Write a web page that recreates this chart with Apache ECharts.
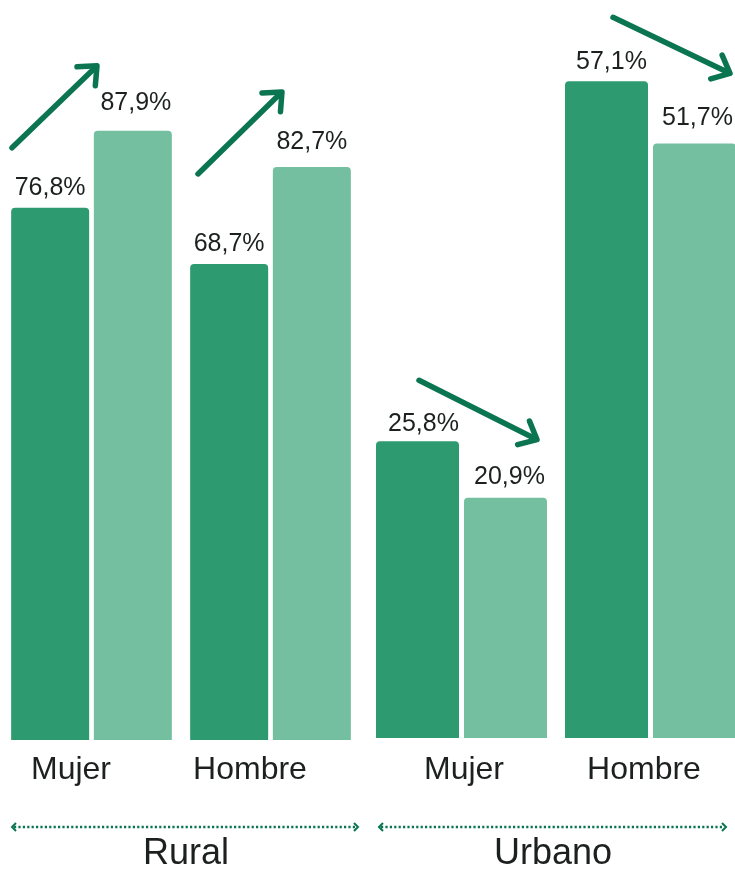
<!DOCTYPE html>
<html>
<head>
<meta charset="utf-8">
<style>
html,body{margin:0;padding:0;background:#fff;}
#chart{width:735px;height:869px;}
</style>
<script src="https://cdn.jsdelivr.net/npm/echarts@6/dist/echarts.min.js"></script>
</head>
<body>
<div id="chart"></div>
<script>
// ---- data ----
const categories = ['Mujer', 'Hombre'];
const groups = ['Rural', 'Urbano'];
const ruralDark = [76.8, 68.7];
const ruralLight = [87.9, 82.7];
const urbanoDark = [25.8, 57.1];
const urbanoLight = [20.9, 51.7];

// ---- style ----
const FONT = 'Liberation Sans, Arial, sans-serif';
const DARK = '#2e9a6f';
const LIGHT = '#74bf9f';
const ARROW = '#0a7550';
const TEXT = '#1c2120';
// per-bar label placement tweaks: [distance above bar, horizontal offset]
const labelTweaks = {
  ruralDark: [[7, 0], [7, 0]],
  ruralLight: [[15, 3], [12, 0]],
  urbanoDark: [[5, 6], [7, 5]],
  urbanoLight: [[8, 4], [13, 3]]
};

const chart = echarts.init(document.getElementById('chart'), null, {renderer: 'canvas'});

function fmt(p) { return p.value.toFixed(1).replace('.', ',') + '%'; }

function barSeries(xi, yi, values, tweaks, color, width) {
  return {
    type: 'bar', xAxisIndex: xi, yAxisIndex: yi,
    data: values.map((v, i) => ({value: v,
      label: {distance: tweaks[i][0], offset: [tweaks[i][1], 0]}})),
    barWidth: width, barGap: '6%',
    itemStyle: {color: color, borderRadius: [4, 4, 0, 0]},
    label: {show: true, position: 'top', formatter: fmt,
            fontFamily: FONT, fontSize: 25, color: TEXT},
    silent: true, animation: false
  };
}

function catAxis(gi, margin, shifts, boundaryGap) {
  const rich = {};
  shifts.forEach((s, i) => {
    rich['c' + i] = {fontFamily: FONT, fontSize: 32, color: TEXT,
      padding: s < 0 ? [0, -2 * s, 0, 0] : [0, 0, 0, 2 * s]};
  });
  return {
    type: 'category', gridIndex: gi, data: categories, position: 'bottom',
    boundaryGap: boundaryGap,
    axisLine: {show: false}, axisTick: {show: false},
    axisLabel: {margin: margin, interval: 0,
      formatter: (v, i) => '{c' + i + '|' + v + '}', rich: rich}
  };
}

function groupAxis(gi, name, margin, shift) {
  return {
    type: 'category', gridIndex: gi, data: [name], position: 'bottom',
    axisLine: {show: false}, axisTick: {show: false},
    axisLabel: {margin: margin, fontFamily: FONT, fontSize: 36, color: TEXT,
      padding: shift < 0 ? [0, -2 * shift, 0, 0] : [0, 0, 0, 2 * shift]}
  };
}

const option = {
  backgroundColor: '#ffffff',
  animation: false,
  grid: [
    {left: 2, top: 47, width: 358, height: 693, containLabel: false, outerBoundsMode: 'none'},
    {left: 461.5, top: 48, width: 189, height: 690, containLabel: false, outerBoundsMode: 'none'}
  ],
  xAxis: [
    catAxis(0, 14, [-20.5, -20.5], true),
    catAxis(1, 16, [2.5, -6.5], false),
    groupAxis(0, groups[0], 96, 5),
    groupAxis(1, groups[1], 98, -3)
  ],
  yAxis: [
    {type: 'value', gridIndex: 0, min: 0, max: 100, show: false, splitLine: {show: false}},
    {type: 'value', gridIndex: 1, min: 0, max: 60, show: false, splitLine: {show: false}}
  ],
  series: [
    barSeries(0, 0, ruralDark, labelTweaks.ruralDark, DARK, 78),
    barSeries(0, 0, ruralLight, labelTweaks.ruralLight, LIGHT, 78),
    barSeries(1, 1, urbanoDark, labelTweaks.urbanoDark, DARK, 83),
    barSeries(1, 1, urbanoLight, labelTweaks.urbanoLight, LIGHT, 83)
  ]
};
chart.setOption(option);

// ---- trend arrows anchored on the bar tops ----
// [grid, category, dark values, light values, start dx/dy, end dx/dy] offsets in px from category centre / bar top
const arrowDefs = [
  [0, 0, ruralDark, ruralLight, -79.5, -60, 5.5, -65],
  [0, 1, ruralDark, ruralLight, -72.5, -90, 11.5, -75],
  [1, 0, urbanoDark, urbanoLight, -42.5, -61, 75.5, -58],
  [1, 1, urbanoDark, urbanoLight, -37.5, -64, 79.5, -70]
];
const graphics = [];
arrowDefs.forEach(d => {
  const [gi, ci, dv, lv, sdx, sdy, edx, edy] = d;
  const pd = chart.convertToPixel({xAxisIndex: gi, yAxisIndex: gi}, [ci, dv[ci]]);
  const pl = chart.convertToPixel({xAxisIndex: gi, yAxisIndex: gi}, [ci, lv[ci]]);
  const x1 = pd[0] + sdx, y1 = pd[1] + sdy;
  const x2 = pl[0] + edx, y2 = pl[1] + edy;
  const ang = Math.atan2(y1 - y2, x1 - x2);
  const L = 20, a = 0.72;
  const h1 = [x2 + L * Math.cos(ang + a), y2 + L * Math.sin(ang + a)];
  const h2 = [x2 + L * Math.cos(ang - a), y2 + L * Math.sin(ang - a)];
  graphics.push({type: 'polyline', silent: true,
    shape: {points: [[x1, y1], [x2 + 2 * Math.cos(ang), y2 + 2 * Math.sin(ang)]]},
    style: {stroke: ARROW, lineWidth: 5.5, lineCap: 'round', fill: null}});
  graphics.push({type: 'polyline', silent: true,
    shape: {points: [h1, [x2, y2], h2]},
    style: {stroke: ARROW, lineWidth: 5.5, lineCap: 'round', lineJoin: 'round', fill: null}});
});

// ---- dotted group brackets ----
[[12, 358], [379, 726]].forEach(r => {
  const y = 827, x1 = r[0], x2 = r[1];
  graphics.push({type: 'line', silent: true, shape: {x1: x1 + 2, y1: y, x2: x2 - 2, y2: y},
    style: {stroke: ARROW, lineWidth: 2.5, lineDash: [2.2, 2.2]}});
  graphics.push({type: 'polyline', silent: true,
    shape: {points: [[x1 + 4, y - 4], [x1, y], [x1 + 4, y + 4]]},
    style: {stroke: ARROW, lineWidth: 2, fill: null}});
  graphics.push({type: 'polyline', silent: true,
    shape: {points: [[x2 - 4, y - 4], [x2, y], [x2 - 4, y + 4]]},
    style: {stroke: ARROW, lineWidth: 2, fill: null}});
});
chart.setOption({graphic: graphics});
</script>
</body>
</html>
